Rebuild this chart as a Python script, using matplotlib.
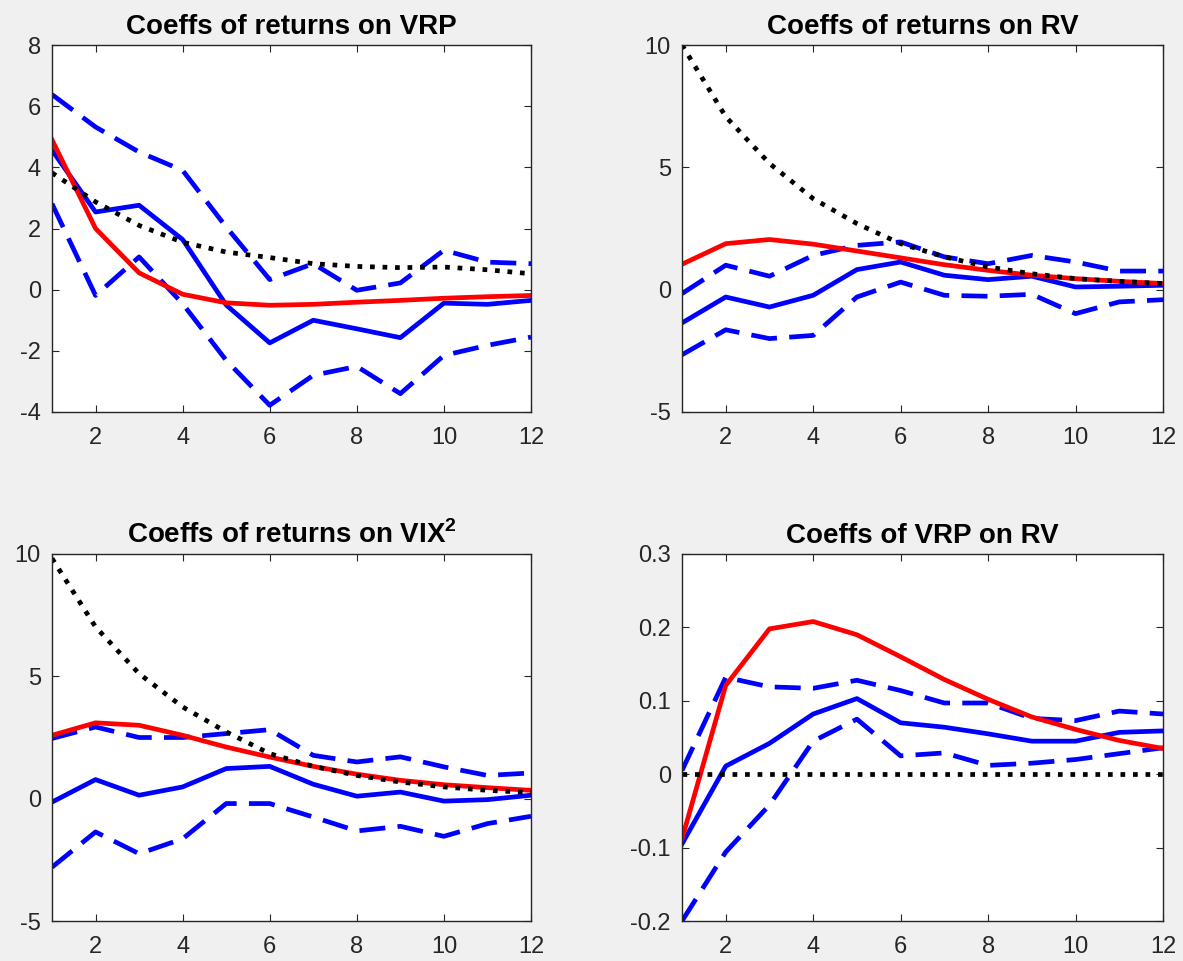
import matplotlib
matplotlib.use('Agg')
import matplotlib.pyplot as plt

plt.rcParams['font.family'] = ['Liberation Sans', 'DejaVu Sans']
plt.rcParams['mathtext.fontset'] = 'custom'
plt.rcParams['mathtext.rm'] = 'Liberation Sans'
plt.rcParams['mathtext.bf'] = 'Liberation Sans:bold'
plt.rcParams['axes.unicode_minus'] = False

horizon = [1, 2, 3, 4, 5, 6, 7, 8, 9, 10, 11, 12]

# --- returns on VRP
vrp_est = [4.56, 2.54, 2.76, 1.64, -0.50, -1.74, -1.00, -1.28, -1.57, -0.44, -0.48, -0.35]
vrp_hi = [6.38, 5.32, 4.50, 3.90, 2.05, 0.33, 0.85, -0.02, 0.22, 1.29, 0.90, 0.85]
vrp_lo = [2.81, -0.19, 1.07, -0.46, -2.31, -3.78, -2.80, -2.51, -3.40, -2.15, -1.82, -1.55]
vrp_model = [4.90, 2.00, 0.55, -0.15, -0.43, -0.51, -0.48, -0.41, -0.35, -0.28, -0.23, -0.19]
vrp_ref = [3.82, 2.87, 2.10, 1.55, 1.23, 1.05, 0.85, 0.76, 0.72, 0.74, 0.65, 0.52]

# --- returns on RV
rv_est = [-1.36, -0.30, -0.71, -0.23, 0.82, 1.13, 0.59, 0.41, 0.55, 0.11, 0.14, 0.18]
rv_hi = [-0.16, 1.00, 0.55, 1.40, 1.81, 1.95, 1.34, 1.06, 1.40, 1.13, 0.76, 0.76]
rv_lo = [-2.66, -1.64, -2.00, -1.87, -0.30, 0.31, -0.23, -0.27, -0.19, -0.98, -0.50, -0.41]
rv_model = [1.04, 1.88, 2.05, 1.86, 1.58, 1.30, 1.02, 0.79, 0.59, 0.45, 0.34, 0.25]
rv_ref = [10.0, 7.07, 5.16, 3.72, 2.70, 1.88, 1.34, 0.93, 0.65, 0.45, 0.34, 0.25]

# --- returns on VIX^2
vix_est = [-0.14, 0.78, 0.14, 0.48, 1.23, 1.32, 0.59, 0.10, 0.27, -0.10, -0.04, 0.14]
vix_hi = [2.46, 2.93, 2.50, 2.50, 2.66, 2.82, 1.77, 1.50, 1.71, 1.30, 0.95, 1.05]
vix_lo = [-2.80, -1.36, -2.25, -1.64, -0.20, -0.20, -0.75, -1.32, -1.13, -1.54, -1.02, -0.72]
vix_model = [2.59, 3.10, 3.00, 2.59, 2.11, 1.70, 1.32, 1.00, 0.75, 0.57, 0.45, 0.34]
vix_ref = [9.82, 7.02, 5.11, 3.75, 2.73, 1.84, 1.32, 0.95, 0.68, 0.48, 0.34, 0.25]

# --- VRP on RV
vr_est = [-0.095, 0.011, 0.042, 0.082, 0.103, 0.070, 0.064, 0.055, 0.045, 0.045, 0.057, 0.059]
vr_hi = [0.005, 0.132, 0.119, 0.117, 0.128, 0.114, 0.097, 0.097, 0.076, 0.073, 0.086, 0.082]
vr_lo = [-0.200, -0.106, -0.042, 0.045, 0.075, 0.025, 0.029, 0.012, 0.015, 0.020, 0.028, 0.036]
vr_model = [-0.088, 0.121, 0.198, 0.208, 0.190, 0.160, 0.129, 0.102, 0.078, 0.061, 0.046, 0.035]
vr_ref = [0, 0, 0, 0, 0, 0, 0, 0, 0, 0, 0, 0]

panels = [
    ('Coeffs of returns on VRP', vrp_est, vrp_hi, vrp_lo, vrp_model, vrp_ref, (-4, 8), [-4, -2, 0, 2, 4, 6, 8], None),
    ('Coeffs of returns on RV', rv_est, rv_hi, rv_lo, rv_model, rv_ref, (-5, 10), [-5, 0, 5, 10], None),
    (r'Coeffs of returns on VIX$^\mathbf{2}$', vix_est, vix_hi, vix_lo, vix_model, vix_ref, (-5, 10), [-5, 0, 5, 10], None),
    ('Coeffs of VRP on RV', vr_est, vr_hi, vr_lo, vr_model, vr_ref, (-0.2, 0.3), [-0.2, -0.1, 0, 0.1, 0.2, 0.3],
     ['-0.2', '-0.1', '0', '0.1', '0.2', '0.3']),
]

W, H = 1183, 961
boxes = [(52, 45, 531, 412), (682, 45, 1163, 412), (52, 554, 531, 921), (682, 554, 1163, 921)]

fig = plt.figure(figsize=(W / 100, H / 100), dpi=100, facecolor='#f0f0f0')
axis_col = '#262626'

for (title, est, hi, lo, model, ref, ylim, yt, ytl), (x0, y0, x1, y1) in zip(panels, boxes):
    ax = fig.add_axes([x0 / W, 1 - y1 / H, (x1 - x0) / W, (y1 - y0) / H])
    ax.plot(horizon, est, color='#0000ff', lw=3.4)
    ax.plot(horizon, hi, color='#0000ff', lw=3.4, dashes=(5.5, 2.6))
    ax.plot(horizon, lo, color='#0000ff', lw=3.4, dashes=(5.5, 2.6))
    ax.plot(horizon, model, color='#ff0000', lw=3.4)
    ax.plot(horizon, ref, color='black', lw=3.4, ls=':')
    ax.set_xlim(1, 12)
    ax.set_ylim(*ylim)
    ax.set_xticks([2, 4, 6, 8, 10, 12])
    ax.set_yticks(yt)
    if ytl is not None:
        ax.set_yticklabels(ytl)
    ax.tick_params(direction='in', top=True, right=True, length=5, width=0.8,
                   color=axis_col, labelcolor=axis_col, labelsize=17)
    ax.tick_params(axis='x', pad=11)
    ax.tick_params(axis='y', pad=8)
    for s in ax.spines.values():
        s.set_color(axis_col)
        s.set_linewidth(1.0)
    ax.set_title(title, fontsize=20, fontweight='bold', pad=8)

fig.savefig('out.png', dpi=100, facecolor='#f0f0f0')
